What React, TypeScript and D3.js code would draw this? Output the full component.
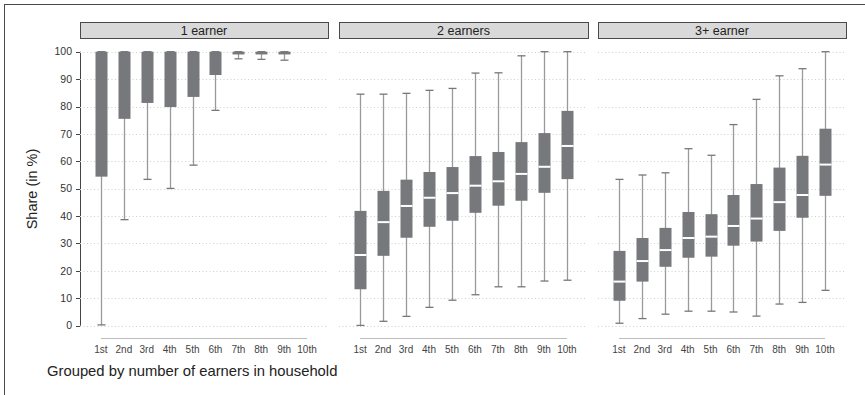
import React from "react";
import * as d3 from "d3";

// Deciles of household income, shown on every panel
const deciles = ["1st", "2nd", "3rd", "4th", "5th", "6th", "7th", "8th", "9th", "10th"];
const panelTitles = ["1 earner", "2 earners", "3+ earner"];
const yTicks = [0, 10, 20, 30, 40, 50, 60, 70, 80, 90, 100];

// Box-plot statistics per panel: [lower whisker, Q1, median, Q3, upper whisker]
const oneEarner: number[][] = [
  [0.3, 54.4, 100, 100, 100],
  [38.7, 75.5, 100, 100, 100],
  [53.4, 81.3, 100, 100, 100],
  [50.1, 79.8, 100, 100, 100],
  [58.6, 83.5, 100, 100, 100],
  [78.6, 91.5, 100, 100, 100],
  [97.4, 99.0, 100, 100, 100],
  [97.2, 99.0, 100, 100, 100],
  [96.9, 99.0, 100, 100, 100],
  [100, 100, 100, 100, 100],
];
const twoEarners: number[][] = [
  [0.1, 13.3, 25.8, 41.9, 84.5],
  [1.6, 25.5, 37.8, 49.2, 84.5],
  [3.4, 32.1, 43.7, 53.3, 84.8],
  [6.7, 36.1, 46.7, 56.1, 85.9],
  [9.3, 38.3, 48.4, 57.9, 86.6],
  [11.3, 41.2, 51.1, 61.9, 92.2],
  [14.2, 43.8, 52.7, 63.4, 92.3],
  [14.2, 45.6, 55.4, 67.0, 98.5],
  [16.3, 48.5, 58.0, 70.3, 100],
  [16.6, 53.5, 65.6, 78.4, 100],
];
const threePlusEarners: number[][] = [
  [0.9, 9.1, 16.1, 27.3, 53.4],
  [2.6, 16.1, 23.6, 32.0, 55.0],
  [4.2, 21.5, 27.6, 35.7, 55.8],
  [5.3, 24.8, 32.0, 41.5, 64.6],
  [5.3, 25.2, 32.5, 40.7, 62.2],
  [5.0, 29.2, 36.4, 47.7, 73.4],
  [3.5, 30.7, 39.1, 51.7, 82.6],
  [7.9, 34.6, 45.1, 57.7, 91.2],
  [8.5, 39.4, 47.7, 62.0, 93.8],
  [12.9, 47.4, 58.8, 71.9, 100],
];
const panelData = [oneEarner, twoEarners, threePlusEarners];

const W = 865;
const H = 395;
const FONT = "'Liberation Sans', Arial, Helvetica, sans-serif";
const panelRanges: [number, number][] = [
  [80, 328],
  [339, 588],
  [598, 846],
];
const stripTop = 22;
const stripH = 16;
const axisX = 80;

const y = d3.scaleLinear().domain([0, 100]).range([325.7, 51.7]);

const BOX_W = 12;
const CAP_W = 8;
const BOX_FILL = "#77787c";

function Panel({ idx }: { idx: number }) {
  const [x0, x1] = panelRanges[idx];
  const x = d3.scalePoint<string>().domain(deciles).range([x0, x1]).padding(0.917);
  const rows = panelData[idx];
  const first = x(deciles[0])!;
  const last = x(deciles[deciles.length - 1])!;
  return (
    <g>
      {/* strip header */}
      <rect x={x0 + 0.5} y={stripTop + 0.5} width={x1 - x0} height={stripH} fill="#d9d9d9" stroke="#4a4a4a" strokeWidth={1} />
      <text x={(x0 + x1) / 2} y={stripTop + 12.5} textAnchor="middle" fontSize={12.5} fontFamily={FONT} fill="#222">
        {panelTitles[idx]}
      </text>
      {/* dotted gridlines */}
      {yTicks.map((t) => (
        <line key={t} x1={x0} x2={x1 - 2} y1={Math.round(y(t)) + 0.5} y2={Math.round(y(t)) + 0.5} stroke="#cfcfcf" strokeWidth={1} strokeDasharray="1 2.5" />
      ))}
      {/* boxes; a group with no spread leaves no visible mark */}
      {rows.map((r, i) => {
        const cx = Math.round(x(deciles[i])!) + 0.5;
        const [lo, q1, med, q3, hi] = r;
        if (hi <= lo) return null;
        return (
          <g key={i}>
            <line x1={cx} x2={cx} y1={y(hi)} y2={y(lo)} stroke="#9a9a9a" strokeWidth={1.3} />
            <line x1={cx - CAP_W / 2} x2={cx + CAP_W / 2} y1={y(hi)} y2={y(hi)} stroke="#777" strokeWidth={1.3} />
            <line x1={cx - CAP_W / 2} x2={cx + CAP_W / 2} y1={y(lo)} y2={y(lo)} stroke="#777" strokeWidth={1.3} />
            <rect x={cx - BOX_W / 2} y={y(q3)} width={BOX_W} height={Math.max(0, y(q1) - y(q3))} fill={BOX_FILL} />
            {med < q3 && med > q1 && (
              <line x1={cx - BOX_W / 2} x2={cx + BOX_W / 2} y1={y(med)} y2={y(med)} stroke="#fff" strokeWidth={2} />
            )}
          </g>
        );
      })}
      {/* x axis */}
      <line x1={first} x2={last} y1={338.5} y2={338.5} stroke="#bdbdbd" strokeWidth={1} />
      {deciles.map((d) => (
        <text key={d} x={x(d)} y={353} textAnchor="middle" fontSize={10} fontFamily={FONT} fill="#444">
          {d}
        </text>
      ))}
    </g>
  );
}

export default function App() {
  return (
    <svg width={W} height={H} style={{ position: "absolute", left: 0, top: 0, background: "#fff" }}>
      <rect x={4.5} y={4.5} width={W + 10} height={H + 10} fill="#fff" stroke="#4a4a4a" strokeWidth={1} />
      {/* y axis */}
      <line x1={axisX + 0.5} x2={axisX + 0.5} y1={y(100)} y2={y(0)} stroke="#444" strokeWidth={1} />
      {yTicks.map((t) => (
        <g key={t}>
          <line x1={axisX - 4} x2={axisX} y1={Math.round(y(t)) + 0.5} y2={Math.round(y(t)) + 0.5} stroke="#444" strokeWidth={1} />
          <text x={72} y={y(t) + 3.7} textAnchor="end" fontSize={10.5} fontFamily={FONT} fill="#333">
            {t}
          </text>
        </g>
      ))}
      <text transform={`translate(37,189) rotate(-90)`} textAnchor="middle" fontSize={14.5} fontFamily={FONT} fill="#222">
        Share (in %)
      </text>
      {[0, 1, 2].map((i) => (
        <Panel key={i} idx={i} />
      ))}
      <text x={47} y={375.5} fontSize={14.8} fontFamily={FONT} fill="#222">
        Grouped by number of earners in household
      </text>
    </svg>
  );
}
